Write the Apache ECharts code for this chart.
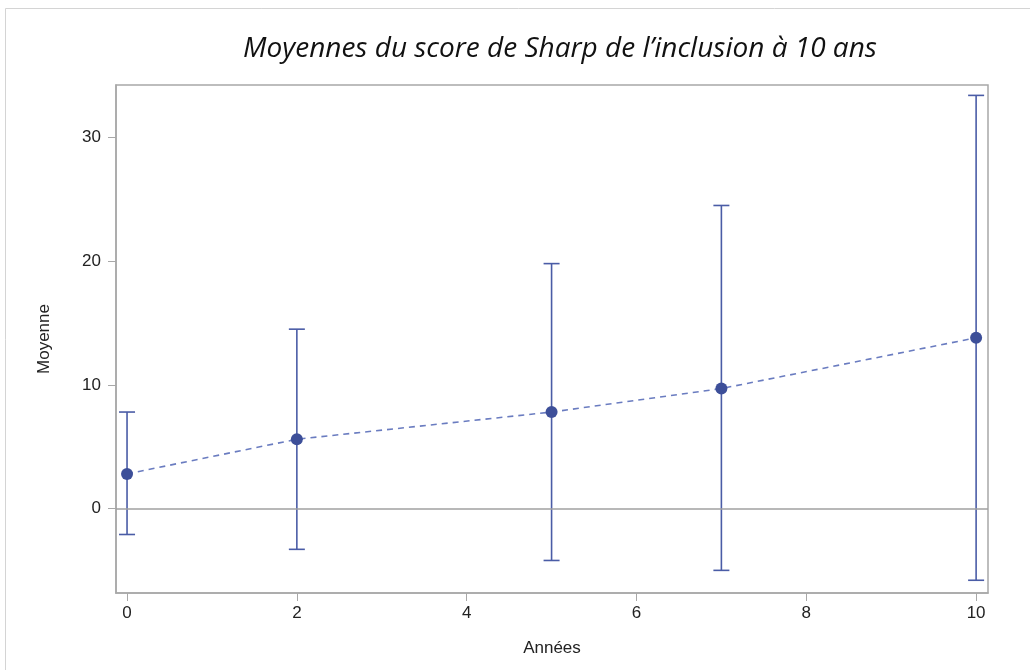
<!DOCTYPE html>
<html><head><meta charset="utf-8">
<script src="https://cdn.jsdelivr.net/npm/echarts@6/dist/echarts.min.js"></script>
<style>html,body{margin:0;padding:0;background:#fff}#c{width:1030px;height:670px}</style>
</head><body><div id="c"></div>
<script>
const years = [0, 2, 5, 7, 10];
const means = [2.8, 5.6, 7.8, 9.7, 13.8];
const lower = [-2.1, -3.3, -4.2, -5.0, -5.8];
const upper = [7.8, 14.5, 19.8, 24.5, 33.4];
const xTicks = [0, 2, 4, 6, 8, 10];
const yTicks = [0, 10, 20, 30];

const chart = echarts.init(document.getElementById('c'));
const barColor = '#4a5ca6';
const axisGray = '#a8a8a8';
chart.setOption({
  animation: false,
  backgroundColor: '#fff',
  graphic: [{
    type: 'rect', shape: {x: 5.5, y: 8.5, width: 1040, height: 700},
    style: {fill: 'none', stroke: '#d4d4d4', lineWidth: 1}, silent: true
  }],
  title: {
    text: 'Moyennes du score de Sharp de l\u2019inclusion \u00e0 10 ans',
    left: 555, top: 30, textAlign: 'center',
    textStyle: {fontFamily: 'Open Sans', fontStyle: 'italic', fontWeight: 'normal', fontSize: 28, color: '#111'}
  },
  grid: {left: 116, right: 42, top: 85, bottom: 77, show: true, borderColor: axisGray, borderWidth: 1.5, containLabel: false},
  xAxis: {
    type: 'value', min: -0.13, max: 10.14,
    name: 'Ann\u00e9es', nameLocation: 'middle', nameGap: 47,
    nameTextStyle: {fontFamily: 'Liberation Sans', fontSize: 17, color: '#222'},
    axisLine: {show: true, onZero: false, lineStyle: {color: axisGray, width: 1.5}},
    splitLine: {show: false},
    axisTick: {show: true, customValues: xTicks, length: 8, lineStyle: {color: axisGray}},
    axisLabel: {customValues: xTicks, fontFamily: 'Liberation Sans', fontSize: 17, color: '#222', margin: 12}
  },
  yAxis: {
    type: 'value', min: -6.83, max: 34.24,
    name: 'Moyenne', nameLocation: 'middle', nameGap: 63, nameRotate: 90,
    nameTextStyle: {fontFamily: 'Liberation Sans', fontSize: 17, color: '#222'},
    axisLine: {show: true, onZero: false, lineStyle: {color: axisGray, width: 1.5}},
    splitLine: {show: false},
    axisTick: {show: true, customValues: yTicks, length: 8, lineStyle: {color: axisGray}},
    axisLabel: {customValues: yTicks, fontFamily: 'Liberation Sans', fontSize: 17, color: '#222', margin: 15}
  },
  series: [
    {
      type: 'line', data: [], silent: true,
      markLine: {
        symbol: 'none', silent: true, label: {show: false},
        lineStyle: {color: '#a0a0a0', type: 'solid', width: 1.5},
        data: [{yAxis: 0}]
      }
    },
    {
      type: 'custom',
      data: years.map((x, i) => [x, lower[i], upper[i]]),
      renderItem: function (params, api) {
        const x = api.value(0);
        const lo = api.coord([x, api.value(1)]);
        const hi = api.coord([x, api.value(2)]);
        const w = 8;
        const st = {stroke: barColor, lineWidth: 1.6, fill: 'none'};
        return {
          type: 'group',
          children: [
            {type: 'line', shape: {x1: lo[0], y1: lo[1], x2: hi[0], y2: hi[1]}, style: st},
            {type: 'line', shape: {x1: lo[0] - w, y1: lo[1], x2: lo[0] + w, y2: lo[1]}, style: st},
            {type: 'line', shape: {x1: hi[0] - w, y1: hi[1], x2: hi[0] + w, y2: hi[1]}, style: st}
          ]
        };
      },
      z: 2
    },
    {
      type: 'line',
      data: years.map((x, i) => [x, means[i]]),
      symbol: 'circle', symbolSize: 12,
      itemStyle: {color: '#3d4f99'},
      lineStyle: {color: '#6a7cc0', width: 1.6, type: [6, 5]},
      z: 3
    }
  ]
});
</script></body></html>
